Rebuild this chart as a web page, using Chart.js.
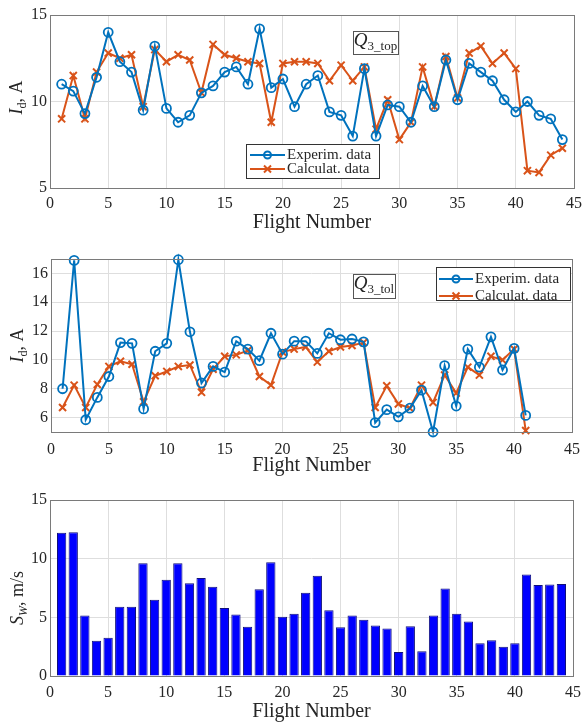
<!DOCTYPE html>
<html>
<head>
<meta charset="utf-8">
<script src="https://cdn.jsdelivr.net/npm/chart.js@4.4.1/dist/chart.umd.min.js"></script>
<style>
    body { margin: 0; background: #fff; }
    .wrap { position: absolute; left: 0; width: 588px; }
</style>
</head>
<body>
<div class="wrap" style="top:0;height:235px"><canvas id="chart-top"></canvas></div>
<div class="wrap" style="top:235px;height:243px"><canvas id="chart-tol"></canvas></div>
<div class="wrap" style="top:478px;height:246px"><canvas id="chart-wind"></canvas></div>
<script>
/* data */
const flights = [1, 2, 3, 4, 5, 6, 7, 8, 9, 10, 11, 12, 13, 14, 15, 16, 17, 18, 19, 20, 21, 22,
    23, 24, 25, 26, 27, 28, 29, 30, 31, 32, 33, 34, 35, 36, 37, 38, 39, 40, 41, 42, 43, 44];

// Q3_top
const topExperim = [11.0, 10.6, 9.3, 11.4, 14.0, 12.3, 11.7, 9.5, 13.2, 9.6, 8.8, 9.2, 10.5, 10.9, 11.7,
    12.0, 11.0, 14.2, 10.8, 11.3, 9.7, 11.0, 11.5, 9.4, 9.2, 8.0, 11.9, 8.0, 9.8, 9.7, 8.8, 10.9, 9.7,
    12.4, 10.1, 12.2, 11.7, 11.2, 10.1, 9.4, 10.0, 9.2, 9.0, 7.8];
const topCalculat = [9.0, 11.5, 9.0, 11.7, 12.8, 12.5, 12.7, 9.7, 13.0, 12.3, 12.7, 12.4, 10.5, 13.3, 12.7,
    12.5, 12.3, 12.2, 8.8, 12.2, 12.3, 12.3, 12.2, 11.2, 12.1, 11.2, 12.0, 8.4, 10.1, 7.8, 8.8, 12.0, 9.7,
    12.6, 10.2, 12.8, 13.2, 12.2, 12.8, 11.9, 6.0, 5.9, 6.9, 7.3];

// Q3_tol (flights 1..41)
const tolExperim = [8.0, 16.9, 5.85, 7.4, 8.85, 11.2, 11.15, 6.6, 10.6, 11.15, 16.95, 11.95, 8.4, 9.55,
    9.15, 11.3, 10.75, 9.95, 11.85, 10.4, 11.3, 11.3, 10.45, 11.85, 11.4, 11.45, 11.25, 5.65, 6.55, 6.05,
    6.65, 7.9, 5.0, 9.6, 6.8, 10.75, 9.5, 11.6, 9.3, 10.8, 6.15];
const tolCalculat = [6.7, 8.25, 6.7, 8.3, 9.55, 9.9, 9.7, 7.1, 8.9, 9.2, 9.55, 9.65, 7.75, 9.35, 10.25,
    10.35, 10.65, 8.85, 8.25, 10.55, 10.75, 10.9, 9.85, 10.6, 10.9, 11.0, 11.2, 6.7, 8.2, 6.95, 6.65, 8.25,
    7.05, 8.95, 7.7, 9.5, 8.95, 10.25, 10.0, 10.75, 5.1];

// wind speed
const windSpeed = [12.2, 12.25, 5.15, 3.0, 3.25, 5.9, 5.9, 9.6, 6.5, 8.2, 9.6, 7.9, 8.35, 7.6, 5.8, 5.25,
    4.2, 7.4, 9.7, 5.05, 5.3, 7.1, 8.55, 5.6, 4.15, 5.15, 4.8, 4.3, 4.05, 2.05, 4.25, 2.1, 5.15, 7.45, 5.3,
    4.65, 2.8, 3.05, 2.5, 2.8, 8.65, 7.75, 7.8, 7.85];

// tick labels
const xTicks = [0, 5, 10, 15, 20, 25, 30, 35, 40, 45];
const topYTicks = [5, 10, 15];
const tolYTicks = [6, 8, 10, 12, 14, 16];
const windYTicks = [0, 5, 10, 15];

const seriesLabels = ["Experim. data", "Calculat. data"];
const xTitle = "Flight Number";

/* styles */
const serif = "'Liberation Serif', 'DejaVu Serif', serif";
const blue = "#0072BD";
const orange = "#D95319";
const gridColor = "#dedede";
const textColor = "#262626";

function toPoints(xs, ys) {
    return ys.map((y, i) => ({ x: xs[i], y: y }));
}

/*
    draw text with italic / subscript parts, centered on x
*/
function drawRich(ctx, parts, x, y, size) {
    const subSize = Math.round(size * 0.68);
    const fontOf = p => (p.it ? "italic " : "") + (p.sub ? subSize : size) + "px " + serif;
    let total = 0;
    const widths = parts.map(p => {
        ctx.font = fontOf(p);
        const w = ctx.measureText(p.t).width;
        total += w;
        return w;
    });
    let cx = x - total / 2;
    ctx.textAlign = "left";
    ctx.textBaseline = "middle";
    parts.forEach((p, i) => {
        ctx.font = fontOf(p);
        ctx.fillText(p.t, cx, p.sub ? y + size * 0.3 : y);
        cx += widths[i];
    });
    return total;
}

function drawMarker(ctx, style, x, y, r) {
    ctx.beginPath();
    if (style === "circle") {
        ctx.arc(x, y, r, 0, Math.PI * 2);
    } else {
        ctx.moveTo(x - r, y - r); ctx.lineTo(x + r, y + r);
        ctx.moveTo(x + r, y - r); ctx.lineTo(x - r, y + r);
    }
    ctx.stroke();
}

/*
    frame, y axis title, tag box and inside legend
*/
const decorPlugin = {
    id: "decor",
    afterDraw(chart, args, opts) {
        const ctx = chart.ctx;
        const a = chart.chartArea;
        ctx.save();

        ctx.strokeStyle = "#7a7a7a";
        ctx.lineWidth = 1;
        ctx.strokeRect(Math.round(a.left) + 0.5, Math.round(a.top) + 0.5,
            Math.round(a.right - a.left), Math.round(a.bottom - a.top));

        ctx.fillStyle = textColor;
        if (opts.yTitle) {
            ctx.save();
            ctx.translate(opts.yTitle.x, (a.top + a.bottom) / 2 + (opts.yTitle.dy || 0));
            ctx.rotate(-Math.PI / 2);
            drawRich(ctx, opts.yTitle.parts, 0, 0, 18);
            ctx.restore();
        }

        if (opts.tag) {
            const t = opts.tag;
            ctx.fillStyle = "#fff";
            ctx.fillRect(t.x, t.y, t.w, t.h);
            ctx.strokeStyle = "#555";
            ctx.strokeRect(t.x + 0.5, t.y + 0.5, t.w, t.h);
            ctx.fillStyle = textColor;
            drawRich(ctx, t.parts, t.x + t.w / 2, t.y + t.h / 2 - 2, 19);
        }

        if (opts.legend) {
            const L = opts.legend;
            ctx.fillStyle = "#fff";
            ctx.fillRect(L.x, L.y, L.w, L.h);
            ctx.strokeStyle = "#333";
            ctx.strokeRect(L.x + 0.5, L.y + 0.5, L.w, L.h);
            chart.data.datasets.forEach((ds, i) => {
                const y = L.y + L.rows[i];
                ctx.strokeStyle = ds.borderColor;
                ctx.lineWidth = 2;
                ctx.beginPath();
                ctx.moveTo(L.x + L.lineFrom, y);
                ctx.lineTo(L.x + L.lineTo, y);
                ctx.stroke();
                drawMarker(ctx, ds.pointStyle, L.x + (L.lineFrom + L.lineTo) / 2, y, 3.5);
                ctx.fillStyle = textColor;
                ctx.font = "15px " + serif;
                ctx.textAlign = "left";
                ctx.textBaseline = "middle";
                ctx.fillText(ds.label, L.x + L.textX, y);
            });
        }
        ctx.restore();
    }
};

function xScale(tickPad, axisHeight) {
    return {
        type: "linear",
        min: 0,
        max: 45,
        offset: false,
        afterBuildTicks: s => { s.ticks = xTicks.map(v => ({ value: v })); },
        afterFit: s => { s.height = axisHeight; },
        grid: { color: gridColor, drawTicks: false, offset: false },
        border: { display: false },
        ticks: { padding: tickPad, color: textColor, font: { family: serif, size: 16 } },
        title: { display: true, text: xTitle, color: textColor, padding: 0,
            font: { family: serif, size: 20 } }
    };
}

function yScale(min, max, tickValues, axisWidth) {
    return {
        type: "linear",
        min: min,
        max: max,
        afterBuildTicks: s => { s.ticks = tickValues.map(v => ({ value: v })); },
        afterFit: s => { s.width = axisWidth; },
        grid: { color: gridColor, drawTicks: false },
        border: { display: false },
        ticks: { padding: 3, color: textColor, font: { family: serif, size: 16 } }
    };
}

function lineDatasets(experim, calculat) {
    return [
        {
            label: seriesLabels[0],
            data: toPoints(flights, experim),
            borderColor: blue,
            borderWidth: 2,
            pointStyle: "circle",
            pointRadius: 4.5,
            pointBorderWidth: 1.8,
            pointBorderColor: blue,
            pointBackgroundColor: "rgba(255,255,255,0)",
            tension: 0,
            clip: false
        },
        {
            label: seriesLabels[1],
            data: toPoints(flights, calculat),
            borderColor: orange,
            borderWidth: 2,
            pointStyle: "crossRot",
            pointRadius: 5,
            pointBorderWidth: 2,
            pointBorderColor: orange,
            pointBackgroundColor: orange,
            tension: 0,
            clip: false
        }
    ];
}

const commonPlugins = { legend: { display: false }, tooltip: { enabled: false } };

/*
    top chart: Q3_top
*/
new Chart(document.getElementById("chart-top"), {
    type: "line",
    data: { datasets: lineDatasets(topExperim, topCalculat) },
    options: {
        responsive: true,
        maintainAspectRatio: false,
        animation: false,
        events: [],
        layout: { padding: { top: 15, right: 10, left: 0, bottom: 0 } },
        scales: { x: xScale(6, 47), y: yScale(5, 15, topYTicks, 50) },
        plugins: Object.assign({}, commonPlugins, {
            decor: {
                yTitle: { x: 17, dy: -4, parts: [{ t: "I", it: true }, { t: "d", sub: true }, { t: ", A" }] },
                tag: { x: 353, y: 31, w: 45, h: 23, parts: [{ t: "Q", it: true }, { t: "3_top", sub: true }] },
                legend: { x: 246, y: 144, w: 133, h: 34, rows: [11, 25], lineFrom: 4, lineTo: 39, textX: 41 }
            }
        })
    },
    plugins: [decorPlugin]
});

/*
    middle chart: Q3_tol
*/
new Chart(document.getElementById("chart-tol"), {
    type: "line",
    data: { datasets: lineDatasets(tolExperim, tolCalculat) },
    options: {
        responsive: true,
        maintainAspectRatio: false,
        animation: false,
        events: [],
        layout: { padding: { top: 24, right: 10, left: 0, bottom: 0 } },
        scales: { x: xScale(8, 46), y: yScale(5, 17, tolYTicks, 51) },
        plugins: Object.assign({}, commonPlugins, {
            decor: {
                yTitle: { x: 18, dy: 0, parts: [{ t: "I", it: true }, { t: "d", sub: true }, { t: ", A" }] },
                tag: { x: 353, y: 39, w: 42, h: 24, parts: [{ t: "Q", it: true }, { t: "3_tol", sub: true }] },
                legend: { x: 436, y: 32, w: 134, h: 33, rows: [12, 29], lineFrom: 3, lineTo: 37, textX: 39 }
            }
        })
    },
    plugins: [decorPlugin]
});

/*
    bottom chart: wind speed bars
*/
new Chart(document.getElementById("chart-wind"), {
    type: "bar",
    data: {
        datasets: [{
            label: "Sw",
            data: toPoints(flights, windSpeed),
            backgroundColor: "#0000FF",
            borderColor: "#10107a",
            borderWidth: 1,
            barPercentage: 0.8,
            categoryPercentage: 1
        }]
    },
    options: {
        responsive: true,
        maintainAspectRatio: false,
        animation: false,
        events: [],
        layout: { padding: { top: 22, right: 10, left: 0, bottom: 0 } },
        scales: { x: xScale(7, 48), y: yScale(0, 15, windYTicks, 50) },
        plugins: Object.assign({}, commonPlugins, {
            decor: {
                yTitle: { x: 18, dy: 10, parts: [{ t: "S", it: true }, { t: "W", it: true, sub: true }, { t: ", m/s" }] }
            }
        })
    },
    plugins: [decorPlugin]
});
</script>
</body>
</html>
